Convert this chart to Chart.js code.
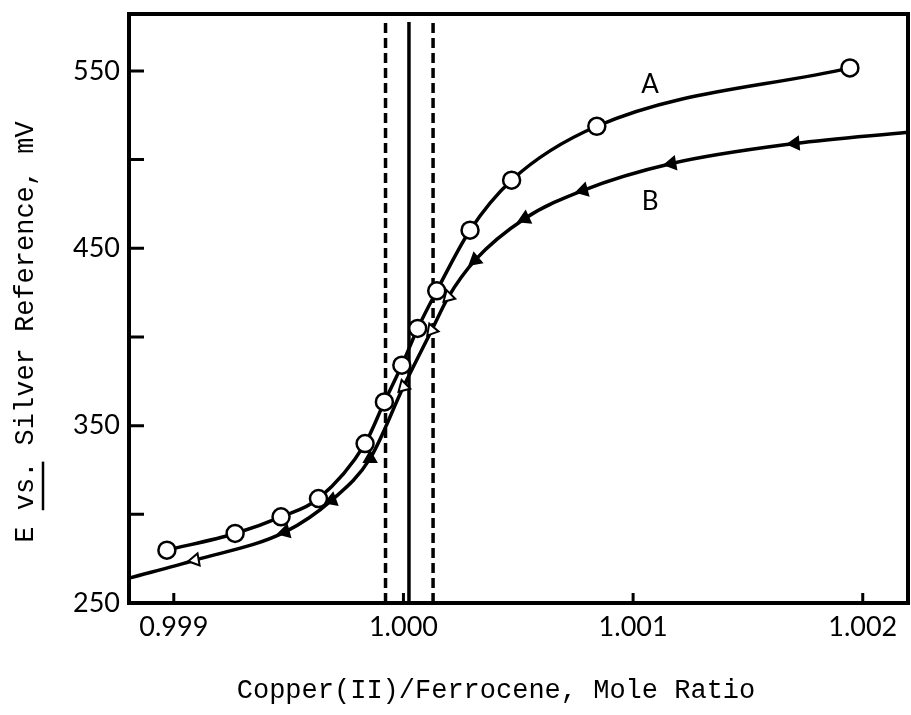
<!DOCTYPE html>
<html>
<head>
<meta charset="utf-8">
<script src="https://cdn.jsdelivr.net/npm/chart.js@4.4.1/dist/chart.umd.min.js"></script>
<style>
    html, body { margin: 0; padding: 0; background: #fff; overflow: hidden; }
    #wrap { width: 911px; height: 715px; }
    canvas { display: block; }
</style>
</head>
<body>
<div id="wrap"><canvas id="titrationChart" width="911" height="715"></canvas></div>
<script>
// curve A (open circles)
const ratioA = [0.998970, 0.999267, 0.999467, 0.999630, 0.999833, 0.999917, 0.999993,
                1.000062, 1.000145, 1.000290, 1.000471, 1.000842, 1.001944];
const emfA = [279.8, 289.2, 298.6, 308.9, 339.9, 363.4, 384.1, 404.8, 426.0, 460.2, 488.4, 518.8, 551.7];

// curve B (triangles), first and last entries are where the curve leaves the frame
const ratioB = [0.998805, 0.999093, 0.999485, 0.999688, 0.999855, 1.000000, 1.000123,
                1.000196, 1.000312, 1.000529, 1.000783, 1.001168, 1.001705, 1.002197];
const emfB = [264.0, 274.2, 290.1, 308.0, 331.5, 371.9, 403.8, 422.6, 443.3, 466.8, 482.7, 497.8, 509.1, 515.5];

// vertical markers
const endpointLimits = [0.999922, 1.000129];
const equivalencePoint = 1.000024;
const markerEmf = [250, 577.6];

// axes
const xTickValues = [0.999, 1.000, 1.001, 1.002];
const yTickValues = [250, 300, 350, 400, 450, 500, 550];
const yLabelValues = [250, 350, 450, 550];
const xRange = [0.998805, 1.002197];
const yRange = [250, 582.1];

const curveLabels = [
    { text: 'A', x: 1.001074, y: 542.1 },
    { text: 'B', x: 1.001074, y: 476.1 }
];
const xTitle = 'Copper(II)/Ferrocene, Mole Ratio';
const yTitle = 'E vs. Silver Reference, mV';

const toPoints = (xs, ys) => xs.map((x, i) => ({ x: x, y: ys[i] }));

const triRotation = [0, -100, -105, -110, -120, -135, -140, -135, -130, -115, -105, -100, -95, 0];
const triRadius = ratioB.map((_, i) => (i === 0 || i === ratioB.length - 1) ? 0 : 7);
const triFill = ['#000', '#fff', '#000', '#000', '#000', '#fff', '#fff', '#fff', '#000', '#000', '#000', '#000', '#000', '#000'];

const lineFor = (x, dash) => ({
    data: [{ x: x, y: markerEmf[0] }, { x: x, y: markerEmf[1] }],
    borderColor: '#000',
    borderWidth: 3.5,
    borderDash: dash,
    pointRadius: 0,
    tension: 0
});

const framePlugin = {
    id: 'frame',
    afterDatasetsDraw(chart) {
        const { ctx, chartArea: a, scales: { x, y } } = chart;
        ctx.save();
        ctx.strokeStyle = '#000';
        ctx.lineWidth = 4;
        ctx.strokeRect(a.left, a.top, a.right - a.left, a.bottom - a.top);

        // inward ticks
        ctx.lineWidth = 3;
        ctx.beginPath();
        yTickValues.forEach(v => {
            const py = y.getPixelForValue(v);
            ctx.moveTo(a.left, py);
            ctx.lineTo(a.left + 15, py);
        });
        xTickValues.forEach(v => {
            const px = x.getPixelForValue(v);
            ctx.moveTo(px, a.bottom);
            ctx.lineTo(px, a.bottom - 10);
        });
        ctx.stroke();

        // curve names
        ctx.fillStyle = '#000';
        ctx.font = '26px Lato';
        ctx.textAlign = 'center';
        ctx.textBaseline = 'middle';
        curveLabels.forEach(l => {
            ctx.fillText(l.text, x.getPixelForValue(l.x), y.getPixelForValue(l.y));
        });
        ctx.restore();
    },
    afterDraw(chart) {
        const { ctx } = chart;
        ctx.save();
        ctx.fillStyle = '#000';
        ctx.strokeStyle = '#000';
        ctx.font = '27px "Liberation Mono"';
        ctx.textBaseline = 'alphabetic';

        ctx.textAlign = 'center';
        ctx.fillText(xTitle, 496, 698);

        ctx.translate(24, 332);
        ctx.rotate(-Math.PI / 2);
        ctx.textAlign = 'left';
        const w = ctx.measureText(yTitle).width;
        const adv = w / yTitle.length;
        ctx.fillText(yTitle, -w / 2, 9);
        ctx.lineWidth = 2.5;
        ctx.beginPath();
        ctx.moveTo(-w / 2 + 2 * adv, 19);
        ctx.lineTo(-w / 2 + 5 * adv, 19);
        ctx.stroke();
        ctx.restore();
    }
};

new Chart(document.getElementById('titrationChart'), {
    type: 'line',
    data: {
        datasets: [
            {
                data: toPoints(ratioA, emfA),
                borderColor: '#000',
                borderWidth: 3.5,
                cubicInterpolationMode: 'monotone',
                pointStyle: 'circle',
                pointRadius: 8.5,
                pointBorderWidth: 2.5,
                pointBorderColor: '#000',
                pointBackgroundColor: '#fff'
            },
            {
                data: toPoints(ratioB, emfB),
                borderColor: '#000',
                borderWidth: 3.5,
                cubicInterpolationMode: 'monotone',
                pointStyle: 'triangle',
                pointRadius: triRadius,
                pointRotation: triRotation,
                pointBorderWidth: 2,
                pointBorderColor: '#000',
                pointBackgroundColor: triFill
            },
            lineFor(endpointLimits[0], [10, 5]),
            lineFor(endpointLimits[1], [10, 5]),
            lineFor(equivalencePoint, [])
        ]
    },
    options: {
        responsive: false,
        animation: false,
        devicePixelRatio: 1,
        layout: { autoPadding: false, padding: { top: 14, right: 3, bottom: 0, left: 0 } },
        scales: {
            x: {
                type: 'linear',
                min: xRange[0],
                max: xRange[1],
                afterBuildTicks: s => { s.ticks = xTickValues.map(v => ({ value: v })); },
                afterFit: s => { s.height = 112; s.paddingLeft = 0; s.paddingRight = 0; },
                grid: { display: false, drawTicks: false },
                border: { display: false },
                ticks: {
                    color: '#000',
                    font: { family: 'Lato', size: 27 },
                    padding: 8,
                    maxRotation: 0,
                    autoSkip: false,
                    callback: v => v.toFixed(3)
                }
            },
            y: {
                type: 'linear',
                min: yRange[0],
                max: yRange[1],
                afterBuildTicks: s => { s.ticks = yTickValues.map(v => ({ value: v })); },
                afterFit: s => { s.width = 129; s.paddingTop = 0; s.paddingBottom = 0; },
                grid: { display: false, drawTicks: false },
                border: { display: false },
                ticks: {
                    color: '#000',
                    font: { family: 'Lato', size: 27 },
                    padding: 9,
                    autoSkip: false,
                    callback: v => yLabelValues.includes(v) ? String(v) : ''
                }
            }
        },
        plugins: {
            legend: { display: false },
            tooltip: { enabled: false }
        }
    },
    plugins: [framePlugin]
});
</script>
</body>
</html>
